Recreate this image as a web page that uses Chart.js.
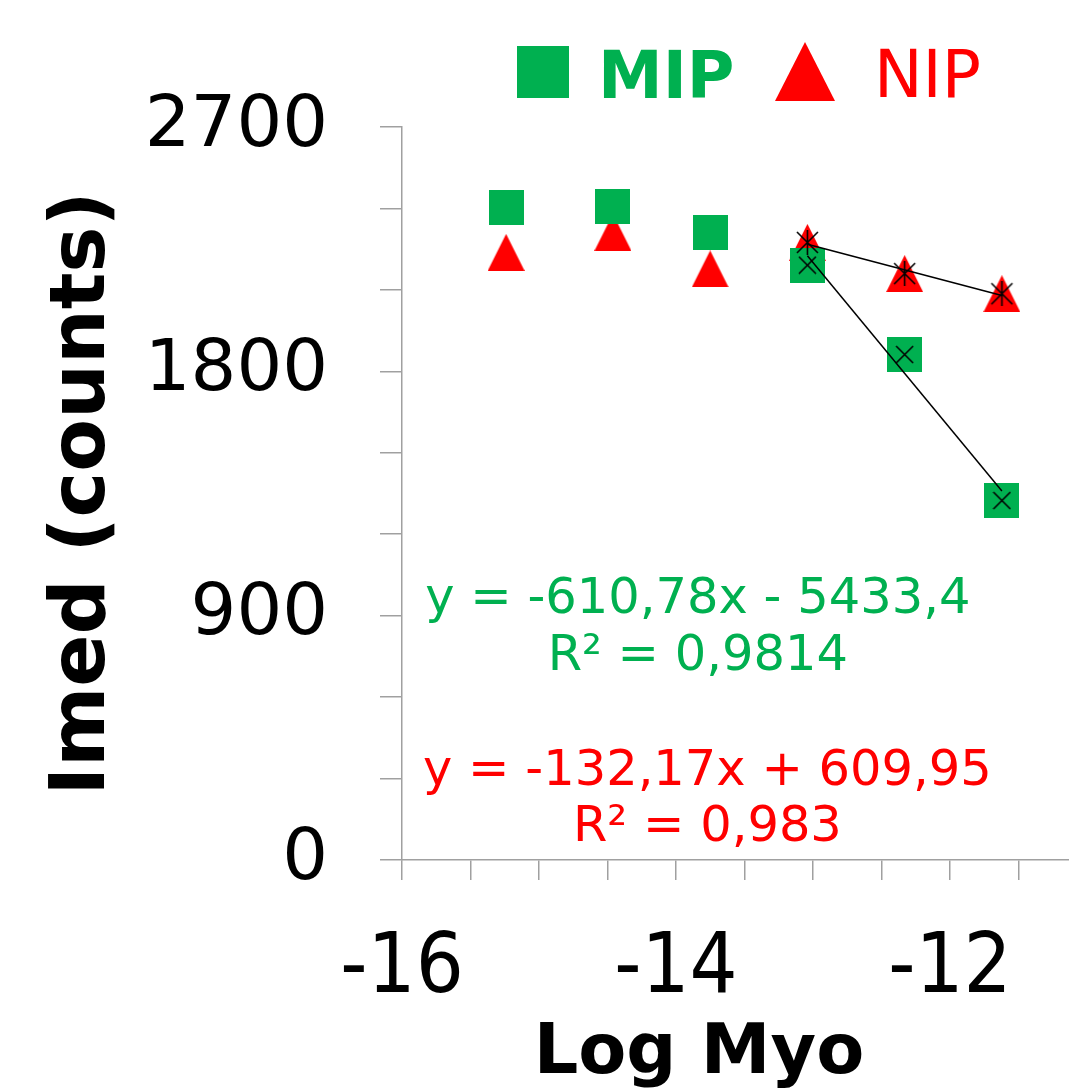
<!DOCTYPE html>
<html>
<head>
<meta charset="utf-8">
<script src="https://cdn.jsdelivr.net/npm/chart.js@4/dist/chart.umd.min.js"></script>
<style>
  html, body { margin: 0; padding: 0; background: #ffffff; }
  #wrap { width: 1069px; height: 1089px; }
</style>
</head>
<body>
<div id="wrap"><canvas id="c" width="1069" height="1089"></canvas></div>
<script>
// ---- data ----
const logMyo = [-15.24, -14.46, -13.75, -13.04, -12.33, -11.62];
const mipValues = [2402, 2406, 2310, 2191, 1862, 1324];
const nipValues = [2238, 2312, 2177, 2275, 2160, 2086];
const fitStartIndex = 3;               // trend lines use the last three points
const seriesNames = ['MIP', 'NIP'];
const mipEquation = ['y = -610,78x - 5433,4', 'R² = 0,9814'];
const nipEquation = ['y = -132,17x + 609,95', 'R² = 0,983'];
const xTickLabels = [-16, -14, -12];
const yTickLabels = [0, 900, 1800, 2700];
const xTitle = 'Log Myo';
const yTitle = 'Imed (counts)';

const GREEN = '#00B050';
const RED = '#FF0000';
const FONT = "'DejaVu Sans', Verdana, sans-serif";
const FONT_COND = "'DejaVu Sans Condensed', 'DejaVu Sans', sans-serif";

// ---- marker images ----
function squareCanvas(s, color) {
  const c = document.createElement('canvas'); c.width = s; c.height = s;
  const g = c.getContext('2d'); g.fillStyle = color; g.fillRect(0, 0, s, s); return c;
}
function triangleCanvas(w, h, color) {
  const c = document.createElement('canvas'); c.width = w; c.height = h;
  const g = c.getContext('2d'); g.fillStyle = color;
  g.beginPath(); g.moveTo(w / 2, 0); g.lineTo(w, h); g.lineTo(0, h); g.closePath(); g.fill();
  return c;
}
function crossCanvas(s, withVertical) {
  const c = document.createElement('canvas'); c.width = s; c.height = s;
  const g = c.getContext('2d'); g.strokeStyle = '#000'; g.lineWidth = 1.6;
  const m = withVertical ? 2 : 1;
  g.beginPath();
  g.moveTo(m, m); g.lineTo(s - m, s - m);
  g.moveTo(s - m, m); g.lineTo(m, s - m);
  if (withVertical) { g.moveTo(s / 2, 0); g.lineTo(s / 2, s); }
  g.stroke();
  return c;
}
const sqImg = squareCanvas(35, GREEN);
const triImg = triangleCanvas(37, 37, RED);
const xImg = crossCanvas(19, false);
const starImg = crossCanvas(25, true);

// ---- linear least-squares trend over the fitted points ----
function trend(xs, ys) {
  const n = xs.length;
  const mx = xs.reduce((a, b) => a + b, 0) / n;
  const my = ys.reduce((a, b) => a + b, 0) / n;
  let sxy = 0, sxx = 0;
  for (let i = 0; i < n; i++) { sxy += (xs[i] - mx) * (ys[i] - my); sxx += (xs[i] - mx) ** 2; }
  const k = sxy / sxx, b = my - k * mx;
  return [{ x: xs[0], y: k * xs[0] + b }, { x: xs[n - 1], y: k * xs[n - 1] + b }];
}
const pts = (ys, from = 0) => logMyo.slice(from).map((x, i) => ({ x, y: ys[from + i] }));
const fitX = logMyo.slice(fitStartIndex);

// ---- plugins: legend + equation labels ----
const legendPlugin = {
  id: 'customLegend',
  afterDraw(chart) {
    const ctx = chart.ctx;
    ctx.save();
    ctx.fillStyle = GREEN;
    ctx.fillRect(517, 46, 52, 52);
    ctx.font = 'bold 65px ' + FONT;
    ctx.textBaseline = 'alphabetic';
    ctx.textAlign = 'left';
    ctx.fillText(seriesNames[0], 598, 98);
    ctx.fillStyle = RED;
    ctx.beginPath(); ctx.moveTo(805, 42); ctx.lineTo(835, 101); ctx.lineTo(775, 101); ctx.closePath(); ctx.fill();
    ctx.font = '65px ' + FONT;
    ctx.fillText(seriesNames[1], 874, 97);
    ctx.restore();
  }
};
const equationPlugin = {
  id: 'equations',
  afterDatasetsDraw(chart) {
    const ctx = chart.ctx, xs = chart.scales.x, ys = chart.scales.y;
    ctx.save();
    ctx.font = '49.5px ' + FONT;
    ctx.textAlign = 'center';
    ctx.textBaseline = 'middle';
    const gx = xs.getPixelForValue(-13.84);
    ctx.fillStyle = GREEN;
    ctx.fillText(mipEquation[0], gx, ys.getPixelForValue(957));
    ctx.fillText(mipEquation[1], gx, ys.getPixelForValue(747));
    const rx = xs.getPixelForValue(-13.77);
    ctx.fillStyle = RED;
    ctx.fillText(nipEquation[0], rx, ys.getPixelForValue(323));
    ctx.fillText(nipEquation[1], rx, ys.getPixelForValue(117));
    ctx.restore();
  }
};

const AXIS_GRAY = '#a0a0a0';

new Chart(document.getElementById('c'), {
  type: 'scatter',
  data: {
    datasets: [
      { label: 'MIP trend marks', data: pts(mipValues, fitStartIndex), pointStyle: xImg, pointRadius: 10, showLine: false, order: 1 },
      { label: 'NIP trend marks', data: pts(nipValues, fitStartIndex), pointStyle: starImg, pointRadius: 10, showLine: false, order: 1 },
      { label: 'MIP trend', data: trend(fitX, mipValues.slice(fitStartIndex)), showLine: true, pointRadius: 0, borderColor: '#000', borderWidth: 1.5, order: 2 },
      { label: 'NIP trend', data: trend(fitX, nipValues.slice(fitStartIndex)), showLine: true, pointRadius: 0, borderColor: '#000', borderWidth: 1.5, order: 2 },
      { label: seriesNames[0], data: pts(mipValues), pointStyle: sqImg, pointRadius: 18, showLine: false, order: 3 },
      { label: seriesNames[1], data: pts(nipValues), pointStyle: triImg, pointRadius: 18, showLine: false, order: 4 }
    ]
  },
  options: {
    responsive: false,
    animation: false,
    events: [],
    layout: { autoPadding: false, padding: { top: 127, right: 0, bottom: 0, left: 0 } },
    plugins: { legend: { display: false }, tooltip: { enabled: false } },
    scales: {
      x: {
        type: 'linear', min: -16, max: -11.13,
        border: { display: true, color: AXIS_GRAY, width: 1.5 },
        grid: { drawOnChartArea: false, drawTicks: true, tickLength: 20, color: AXIS_GRAY, lineWidth: 1.5 },
        ticks: {
          stepSize: 0.5, includeBounds: false, autoSkip: false, maxRotation: 0,
          color: '#000', font: { family: FONT_COND, size: 84 }, padding: 40,
          callback: (v) => xTickLabels.includes(v) ? String(v) : ''
        },
        title: { display: true, text: xTitle + '\u00A0\u00A0\u00A0', color: '#000', font: { family: FONT, size: 70, weight: 'bold' }, padding: { top: 0, bottom: -8 } },
        afterFit: (s) => { s.height = 229; s.paddingLeft = 0; s.paddingRight = 0; }
      },
      y: {
        type: 'linear', min: 0, max: 2700,
        border: { display: true, color: AXIS_GRAY, width: 1.5 },
        grid: { drawOnChartArea: false, drawTicks: true, tickLength: 22, color: AXIS_GRAY, lineWidth: 1.5 },
        ticks: {
          stepSize: 300, includeBounds: false, autoSkip: false,
          color: '#000', font: { family: FONT, size: 72 }, padding: 52,
          callback: (v) => yTickLabels.includes(v) ? String(v) : ''
        },
        title: { display: true, text: yTitle, color: '#000', font: { family: FONT, size: 77, weight: 'bold' }, padding: { top: 38, bottom: 0 } },
        afterFit: (s) => { s.width = 402; }
      }
    }
  },
  plugins: [legendPlugin, equationPlugin]
});
</script>
</body>
</html>
